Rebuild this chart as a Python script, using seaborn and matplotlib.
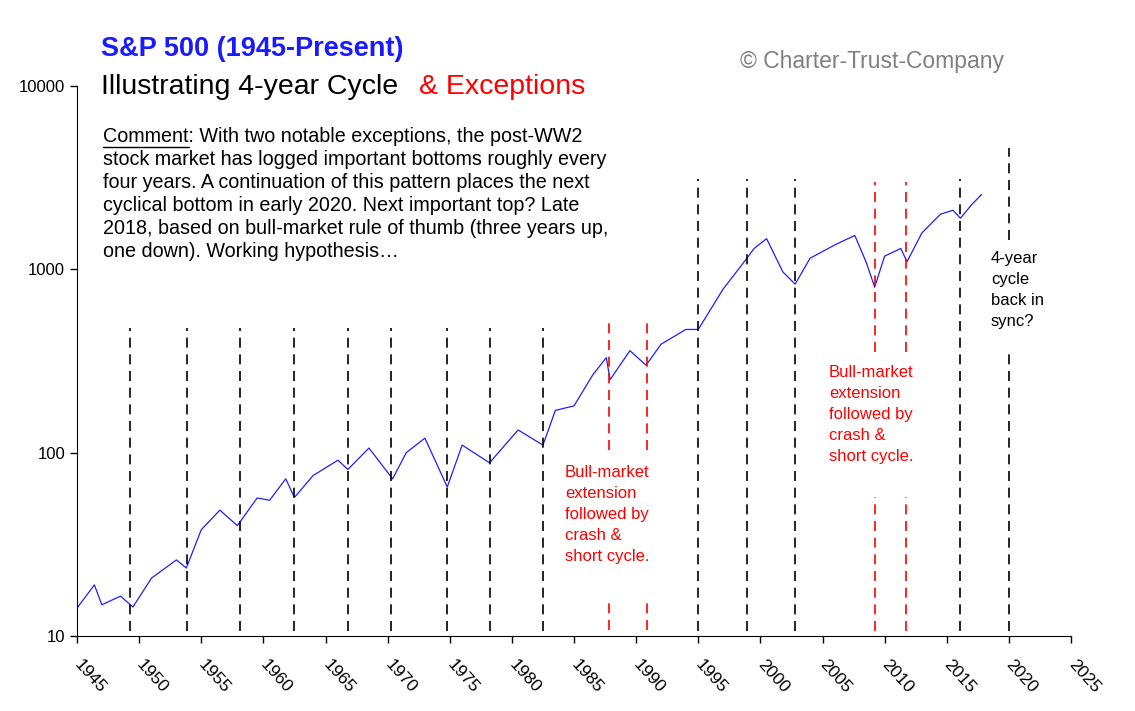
"""S&P 500 since 1945 with the 4-year cycle marked."""

import matplotlib.pyplot as plt
import pandas as pd
import seaborn as sns

YEARS = [1945.0, 1946.4, 1947.0, 1948.5, 1949.5, 1951.0, 1953.0, 1953.8, 1955.0, 1956.5,
         1957.9, 1959.5, 1960.5, 1961.8, 1962.5, 1964.0, 1966.0, 1966.8, 1968.5, 1970.4,
         1971.5, 1973.0, 1974.8, 1976.0, 1978.2, 1980.5, 1982.5, 1983.5, 1985.0, 1986.5,
         1987.6, 1987.9, 1989.5, 1990.8, 1992.0, 1994.0, 1995.0, 1997.0, 1998.7, 1999.5,
         2000.5, 2001.8, 2002.8, 2004.0, 2006.0, 2007.6, 2008.5, 2009.2, 2010.0, 2011.3,
         2011.8, 2013.0, 2014.5, 2015.5, 2016.1, 2017.0, 2017.8]
PRICES = [14.2, 19, 14.8, 16.5, 14.4, 20.7, 26, 23.5, 38, 48.6,
          40, 56.6, 55, 72, 57, 75, 91, 81, 106, 72,
          100, 120, 65, 110, 88, 133, 110, 170, 180, 265,
          330, 250, 360, 300, 390, 470, 470, 780, 1100, 1300,
          1470, 970, 830, 1150, 1360, 1530, 1100, 800, 1180, 1300,
          1100, 1580, 2000, 2100, 1900, 2250, 2560]

CYCLE_LOWS = [1949.3, 1953.85, 1958.1, 1962.5, 1966.8, 1970.3, 1974.8, 1978.2,
              1982.5, 1995.0, 1998.9, 2002.8, 2016.1]
EXCEPTIONS = [1987.8, 1990.9, 2009.2, 2011.7]
NEXT_LOW = 2020.0

COMMENT_LINES = [
    "Comment: With two notable exceptions, the post-WW2",
    "stock market has logged important bottoms roughly every",
    "four years. A continuation of this pattern places the next",
    "cyclical bottom in early 2020. Next important top? Late",
    "2018, based on bull-market rule of thumb (three years up,",
    "one down). Working hypothesis…",
]

W, H = 1135, 711
L, R, B, T = 77, 1071, 636, 86


def main() -> None:
    sns.set_style("white")
    plt.rcParams["font.family"] = ["Liberation Sans", "DejaVu Sans"]
    plt.rcParams["text.color"] = "black"
    plt.rcParams["xtick.color"] = "black"
    plt.rcParams["ytick.color"] = "black"
    fig = plt.figure(figsize=(W / 100, H / 100), dpi=100)
    ax = fig.add_axes([L / W, 1 - B / H, (R - L) / W, (B - T) / H])

    df = pd.DataFrame({"year": YEARS, "price": PRICES})
    sns.lineplot(data=df, x="year", y="price", ax=ax, color="#1f1fff", lw=0.9)
    ax.set_yscale("log")
    ax.set_ylim(10, 10000)
    ax.set_xlim(1945, 2025)

    ax.set_xticks(range(1945, 2030, 5))
    ax.set_xticklabels([str(y) for y in range(1945, 2030, 5)], rotation=-48,
                       ha="left", va="center", fontsize=12.5, rotation_mode="anchor")
    ax.tick_params(axis="x", pad=14)
    ax.set_yticks([10, 100, 1000, 10000])
    ax.set_yticklabels(["10", "100", "1000", "10000"], fontsize=12)
    ax.minorticks_off()
    ax.tick_params(axis="both", length=5, width=1, color="black", direction="out",
                   bottom=True, left=True)
    ax.set_xlabel("")
    ax.set_ylabel("")
    for s in ["top", "right"]:
        ax.spines[s].set_visible(False)
    for s in ["left", "bottom"]:
        ax.spines[s].set_color("black")

    dash = (0, (6, 4))

    def vline(x, segs, color):
        for lo, hi in segs:
            ax.plot([x, x], [lo, hi], color=color, lw=1.2, linestyle=dash)

    for x in CYCLE_LOWS:
        top = 480 if x < 1985 else 3100
        vline(x, [(10.6, top)], "black")
    for x in EXCEPTIONS[:2]:
        vline(x, [(10.8, 16.3), (103, 530)], "red")
    for x in EXCEPTIONS[2:]:
        vline(x, [(10.6, 57), (355, 3000)], "red")
    vline(NEXT_LOW, [(10.6, 365), (1450, 4600)], "black")

    def ftext(px, py, s, **kw):
        return fig.text(px / W, 1 - py / H, s, va="top", ha="left", **kw)

    ftext(101, 36, "S&P 500 (1945-Present)", fontsize=19.5, fontweight="bold", color="#1a1aff")
    ftext(101, 74, "Illustrating 4-year Cycle", fontsize=20.5, color="black")
    ftext(419, 74, "& Exceptions", fontsize=20.5, color="red")
    ftext(740, 50, "© Charter-Trust-Company", fontsize=16.5, color="#808080")

    for i, line in enumerate(COMMENT_LINES):
        ftext(103, 127 + i * 23, line, fontsize=14.2)
    # underline under the word "Comment"
    probe = ftext(103, 127, "Comment", fontsize=14.2, alpha=0)
    bb = probe.get_window_extent(fig.canvas.get_renderer())
    fig.add_artist(plt.Line2D([bb.x0 / W, bb.x1 / W], [1 - 147 / H, 1 - 147 / H],
                              color="black", lw=1))

    exc = "Bull-market\nextension\nfollowed by\ncrash &\nshort cycle."
    ftext(565, 465, exc, fontsize=12, color="red", linespacing=1.5)
    ftext(829, 365, exc, fontsize=12, color="red", linespacing=1.5)
    ftext(991, 251, "4-year\ncycle\nback in\nsync?", fontsize=12, color="black",
          linespacing=1.5)

    fig.savefig("out.png", dpi=100)


if __name__ == "__main__":
    main()
